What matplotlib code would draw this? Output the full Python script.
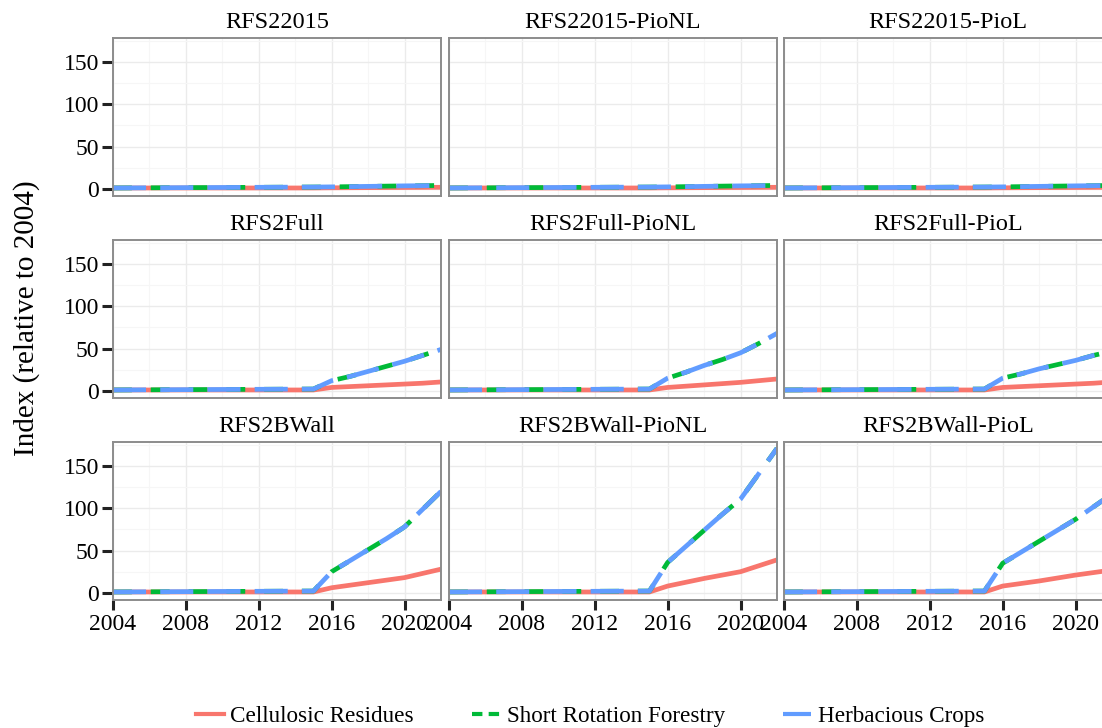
import matplotlib.pyplot as plt
from matplotlib.lines import Line2D

plt.rcParams['font.family'] = ['Liberation Serif', 'DejaVu Serif']

years = list(range(2004, 2023))

scenarios = ["RFS22015", "RFS22015-PioNL", "RFS22015-PioL",
             "RFS2Full", "RFS2Full-PioNL", "RFS2Full-PioL",
             "RFS2BWall", "RFS2BWall-PioNL", "RFS2BWall-PioL"]

# index values 2004..2022, one list per scenario and feedstock
flat_herb = [1.0, 1.1, 1.2, 1.3, 1.4, 1.5, 1.6, 1.7, 1.8, 1.9, 2.0, 2.1]
flat_cell = [1.0, 1.0, 1.0, 1.0, 1.0, 1.0, 1.0, 1.0, 1.0, 1.0, 1.0, 1.0]

herb_rfs22015 = flat_herb + [2.3, 2.6, 2.9, 3.2, 3.5, 3.7, 4.0]
cell_rfs22015 = flat_cell + [1.2, 1.3, 1.4, 1.5, 1.6, 1.7, 1.8]
herb_rfs22015_pionl = flat_herb + [2.3, 2.6, 2.9, 3.2, 3.5, 3.7, 4.0]
cell_rfs22015_pionl = flat_cell + [1.2, 1.3, 1.4, 1.5, 1.6, 1.7, 1.8]
herb_rfs22015_piol = flat_herb + [2.3, 2.6, 2.9, 3.2, 3.5, 3.7, 4.0]
cell_rfs22015_piol = flat_cell + [1.2, 1.3, 1.4, 1.5, 1.6, 1.7, 1.8]

herb_rfs2full = flat_herb + [12, 17, 23, 29, 35, 42, 49]
cell_rfs2full = flat_cell + [4, 5, 6, 7, 8, 9, 10.5]
herb_rfs2full_pionl = flat_herb + [15, 22, 30, 37, 45, 56, 68]
cell_rfs2full_pionl = flat_cell + [4, 5.5, 7, 8.5, 10, 12, 14]
herb_rfs2full_piol = flat_herb + [15, 20, 26, 31, 36, 42, 47]
cell_rfs2full_piol = flat_cell + [4, 5, 6, 7, 8, 9, 10.5]

herb_rfs2bwall = flat_herb + [25, 38, 51, 64, 78, 99, 120]
cell_rfs2bwall = flat_cell + [6, 9, 12, 15, 18, 23, 28]
herb_rfs2bwall_pionl = flat_herb + [36, 55, 74, 93, 111, 141, 171]
cell_rfs2bwall_pionl = flat_cell + [8, 12.5, 17, 21, 25, 32, 39]
herb_rfs2bwall_piol = flat_herb + [35, 48, 61, 74, 87, 102, 117]
cell_rfs2bwall_piol = flat_cell + [8, 11, 14, 17.5, 21, 24, 27]

herb = [herb_rfs22015, herb_rfs22015_pionl, herb_rfs22015_piol,
        herb_rfs2full, herb_rfs2full_pionl, herb_rfs2full_piol,
        herb_rfs2bwall, herb_rfs2bwall_pionl, herb_rfs2bwall_piol]
cell = [cell_rfs22015, cell_rfs22015_pionl, cell_rfs22015_piol,
        cell_rfs2full, cell_rfs2full_pionl, cell_rfs2full_piol,
        cell_rfs2bwall, cell_rfs2bwall_pionl, cell_rfs2bwall_piol]
# short rotation forestry follows the herbaceous index
srf = [list(h) for h in herb]

red = "#F8766D"
green = "#00BA38"
blue = "#619CFF"

W, H = 1102, 728
fig = plt.figure(figsize=(W / 100, H / 100), dpi=100)

col_x = [113, 449, 784]
row_y = [38, 240, 442]
pw, ph = 328, 158

for i, name in enumerate(scenarios):
    r, c = divmod(i, 3)
    ax = fig.add_axes([col_x[c] / W, 1 - (row_y[r] + ph) / H, pw / W, ph / H])
    ax.set_xlim(2004, 2022)
    ax.set_ylim(-8.5, 178.5)
    ax.set_xticks([2004, 2008, 2012, 2016, 2020])
    ax.set_xticks([2006, 2010, 2014, 2018, 2022], minor=True)
    ax.set_yticks([0, 50, 100, 150])
    ax.set_yticks([25, 75, 125, 175], minor=True)
    ax.grid(which='major', color='#EBEBEB', linewidth=1.0)
    ax.grid(which='minor', color='#F6F6F6', linewidth=0.8)
    ax.set_axisbelow(True)
    for s in ax.spines.values():
        s.set_color('#8C8C8C')
        s.set_linewidth(1.4)

    ax.plot(years, cell[i], color=red, lw=3.4, solid_capstyle='butt')
    ax.plot(years, srf[i], color=green, lw=3.4, dashes=(4, 4))
    ax.plot(years, herb[i], color=blue, lw=3.4, dashes=(7, 3))

    ax.set_title(name, fontsize=17.5, pad=7)
    ax.tick_params(which='minor', length=0)
    ax.tick_params(which='major', direction='out', color='#222222', width=2.2,
                   labelsize=17, labelcolor='black')
    ax.tick_params(axis='y', length=8, pad=2)
    ax.tick_params(axis='x', length=7, pad=3)
    if c != 0:
        ax.tick_params(axis='y', left=False, labelleft=False)
    if r != 2:
        ax.tick_params(axis='x', bottom=False, labelbottom=False)

fig.text(27 / W, 1 - 318 / H, "Index (relative to 2004)", rotation=90,
         ha='center', va='center', fontsize=21)

handles = [Line2D([], [], color=red, lw=3),
           Line2D([], [], color=green, lw=3, dashes=(2.5, 1.5)),
           Line2D([], [], color=blue, lw=3, dashes=(7, 3))]
labels = ["Cellulosic Residues", "Short Rotation Forestry", "Herbacious Crops"]
fig.legend(handles, labels, loc='center', bbox_to_anchor=(590 / W, 1 - 716 / H),
           ncol=3, frameon=False, fontsize=16.7, handlelength=1.2,
           handletextpad=0.3, columnspacing=2.5)

fig.savefig("out.png", dpi=100)
